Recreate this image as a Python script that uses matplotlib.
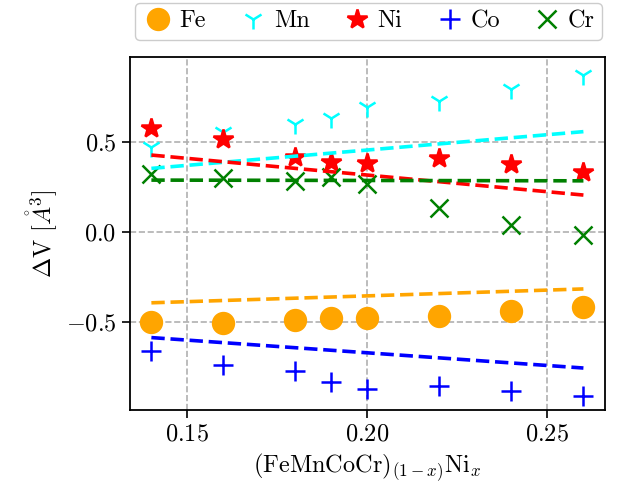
import matplotlib
matplotlib.use("Agg")
import matplotlib.pyplot as plt
import numpy as np

# Ni fraction x in (FeMnCoCr)_(1-x) Ni_x
x = [0.14, 0.16, 0.18, 0.19, 0.20, 0.22, 0.24, 0.26]

# per-element volume change [A^3]
fe = [-0.50, -0.505, -0.49, -0.476, -0.476, -0.465, -0.439, -0.417]
mn = [0.47, 0.556, 0.598, 0.63, 0.694, 0.728, 0.791, 0.871]
ni = [0.574, 0.513, 0.413, 0.385, 0.38, 0.408, 0.376, 0.33]
co = [-0.661, -0.739, -0.772, -0.833, -0.874, -0.857, -0.883, -0.911]
cr = [0.319, 0.297, 0.282, 0.302, 0.263, 0.133, 0.037, -0.015]

# model lines (end points at x = 0.14 and 0.26)
x_fit = [0.14, 0.26]
fe_fit = [-0.394, -0.317]
mn_fit = [0.352, 0.556]
ni_fit = [0.426, 0.204]
co_fit = [-0.587, -0.756]
cr_fit = [0.287, 0.283]

plt.rcParams.update({
    "font.family": "serif",
    "font.serif": ["cmr10", "DejaVu Serif"],
    "mathtext.fontset": "cm",
    "axes.formatter.use_mathtext": True,
    "font.size": 17.5,
})

fig = plt.figure(figsize=(6.18, 4.96), dpi=100)
ax = fig.add_axes([0.210, 0.173, 0.769, 0.712])

series = [
    ("Fe", fe, fe_fit, "orange", "o", 15),
    ("Mn", mn, mn_fit, "cyan", "1", 15),
    ("Ni", ni, ni_fit, "red", "*", 15),
    ("Co", co, co_fit, "blue", "+", 14),
    ("Cr", cr, cr_fit, "green", "x", 13),
]
for name, vals, fit, col, mk, ms in series:
    ax.plot(x, vals, ls="none", marker=mk, color=col, ms=ms, mew=1.8, label=name)
for name, vals, fit, col, mk, ms in series:
    ax.plot(x_fit, fit, ls="--", color=col, lw=2.6)

ax.set_xlim(0.134, 0.266)
ax.set_ylim(-0.99, 0.97)
ax.set_xticks([0.15, 0.20, 0.25])
ax.set_yticks([-0.5, 0.0, 0.5])
ax.grid(True, ls="--", color="#b0b0b0", lw=1.2)
ax.set_axisbelow(True)
ax.tick_params(length=6, width=1.2)
for s in ax.spines.values():
    s.set_linewidth(1.3)

ax.set_xlabel(r"(FeMnCoCr)$_{(1-x)}$Ni$_x$")
ax.set_ylabel(r"$\Delta$V $[\mathring{A}^3]$")

ax.legend(loc="lower center", bbox_to_anchor=(0.503, 1.015), ncol=5,
          handletextpad=0.2, columnspacing=1.3, borderpad=0.3,
          handlelength=1.3, fancybox=True, framealpha=1)

fig.savefig("out.png", facecolor="white")
